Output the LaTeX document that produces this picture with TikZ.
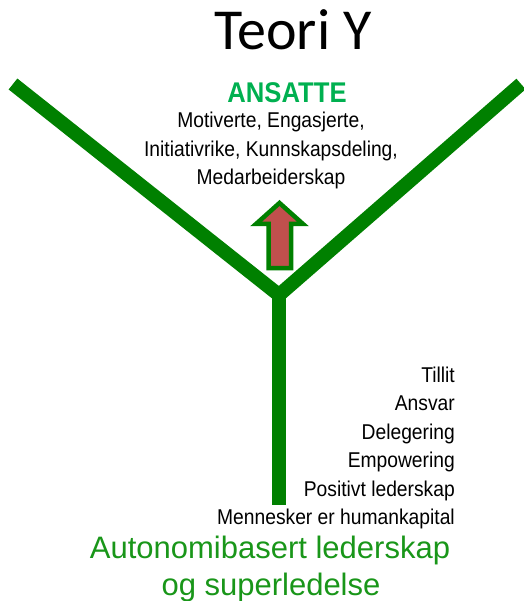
\documentclass[tikz,border=0pt]{standalone}
\usepackage{fontspec}
\setmainfont{Liberation Sans}
\newfontfamily\narrowfont[FakeStretch=0.9]{Liberation Sans}
\newfontfamily\titlefont{Carlito}
\definecolor{linegreen}{RGB}{0,128,0}
\definecolor{headgreen}{RGB}{0,176,80}
\definecolor{textgreen}{RGB}{25,150,25}
\definecolor{arrowred}{RGB}{192,80,77}
\tikzset{
  branch/.style={draw=linegreen, line width=14pt},
  bodytxt/.style={inner sep=0pt, font=\narrowfont\fontsize{21.4}{21.4}\selectfont, text=black},
  listtxt/.style={bodytxt, anchor=base east},
  centertxt/.style={bodytxt, anchor=base},
  bigtxt/.style={inner sep=0pt, anchor=base, font=\fontsize{31}{31}\selectfont, text=textgreen},
  uparrow/.style={draw=linegreen, fill=arrowred, line width=4.5pt, line join=miter}
}
\begin{document}
\begin{tikzpicture}[x=1pt,y=-1pt]
\useasboundingbox (0,0) rectangle (523,601);
% Y shape
\coordinate (L) at (13,84);
\coordinate (R) at (521,84);
\coordinate (J) at (279,295);
\coordinate (B) at (279,505);
\draw[branch] (L) -- (J) -- (R);
\draw[branch] (J) -- (B);
% arrow
\draw[uparrow] (268.5,268) -- (268.5,224) -- (256,224) -- (279.5,203) -- (303,224) -- (291,224) -- (291,268) -- cycle;
% title
\node[inner sep=0pt, anchor=base, font=\titlefont\fontsize{58}{58}\selectfont] (title) at (293,50) {Teori Y};
% top text
\node[inner sep=0pt, anchor=base, font=\narrowfont\bfseries\fontsize{28.5}{28.5}\selectfont, text=headgreen] (ansatte) at (287,103) {ANSATTE};
\node[centertxt] (t1) at (271,128) {Motiverte, Engasjerte,};
\node[centertxt] (t2) at (271,157) {Initiativrike, Kunnskapsdeling,};
\node[centertxt] (t3) at (271,185) {Medarbeiderskap};
% right list
\node[listtxt] (l1) at (455,382) {Tillit};
\node[listtxt] (l2) at (455,410.5) {Ansvar};
\node[listtxt] (l3) at (455,439) {Delegering};
\node[listtxt] (l4) at (455,467.5) {Empowering};
\node[listtxt] (l5) at (455,496) {Positivt lederskap};
\node[listtxt] (l6) at (455,524) {Mennesker er humankapital};
% bottom
\node[bigtxt] (b1) at (270,558) {Autonomibasert lederskap};
\node[bigtxt] (b2) at (271,595) {og superledelse};
\end{tikzpicture}
\end{document}
